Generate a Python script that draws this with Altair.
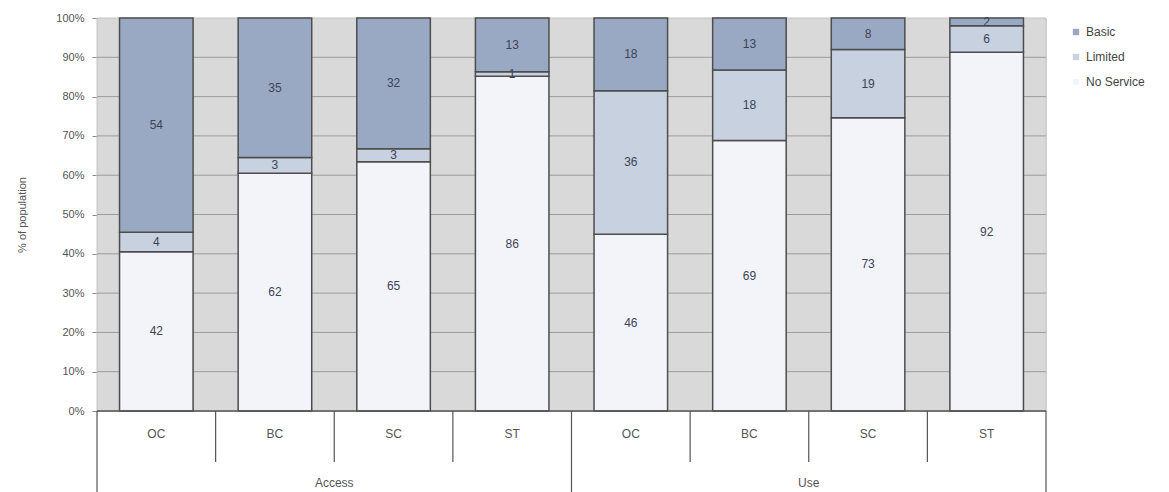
import altair as alt
import pandas as pd

# ---- data ----
groups = ["Access", "Access", "Access", "Access", "Use", "Use", "Use", "Use"]
cats = ["OC", "BC", "SC", "ST", "OC", "BC", "SC", "ST"]
levels = ["No Service", "Limited", "Basic"]

# drawn segment heights (% of bar)
h_no_service = [40.5, 60.5, 63.4, 85.2, 45.0, 68.8, 74.6, 91.3]
h_limited = [5.0, 4.0, 3.3, 1.1, 36.5, 18.0, 17.4, 6.7]
h_basic = [54.5, 35.5, 33.3, 13.7, 18.5, 13.2, 8.0, 2.0]

# printed labels
l_no_service = [42, 62, 65, 86, 46, 69, 73, 92]
l_limited = [4, 3, 3, 1, 36, 18, 19, 6]
l_basic = [54, 35, 32, 13, 18, 13, 8, 2]

y_ticks = [0, 10, 20, 30, 40, 50, 60, 70, 80, 90, 100]

colors = ["#9AA9C3", "#C8D1DF", "#F3F4F9"]  # Basic, Limited, No Service

W, H = 949, 393

rows = []
for i in range(len(cats)):
    for o, (lvl, hs, ls) in enumerate(zip(levels,
                                          [h_no_service, h_limited, h_basic],
                                          [l_no_service, l_limited, l_basic])):
        rows.append({"idx": i, "group": groups[i], "cat": cats[i], "level": lvl,
                     "ord": o, "value": hs[i], "label": str(ls[i])})
df = pd.DataFrame(rows)

cat_df = pd.DataFrame({"idx": list(range(len(cats))), "cat": cats, "group": groups})
bounds = list(range(len(cats) + 1))
outer = [b for b in bounds if b == 0 or b == len(cats) or groups[b - 1] != groups[b]]
inner = [b for b in bounds if b not in outer]

xscale = alt.Scale(domain=[0, len(cats)], nice=False, zero=False)
yscale = alt.Scale(domain=[0, 100], nice=False)
YT = "% of population"


def yaxis():
    return alt.Axis(values=y_ticks, labelExpr="datum.value + '%'",
                    grid=False, tickColor="#8A8A8A", tickSize=5, domain=False,
                    labelPadding=8, labelFontSize=11, labelColor="#555555",
                    labelOverlap=False,
                    titleFontSize=11, titleFontWeight="normal", titleColor="#555555",
                    titlePadding=28)


bg = alt.Chart(pd.DataFrame({"xa": [0], "xb": [len(cats)], "ya": [0], "yb": [100]})).mark_rect(
    color="#D9D9D9", stroke="#C4C4C4", strokeWidth=1
).encode(
    x=alt.X("xa:Q", scale=xscale, axis=None), x2="xb:Q",
    y=alt.Y("ya:Q", scale=yscale, title=YT, axis=yaxis()),
    y2="yb:Q",
)

grid = alt.Chart(pd.DataFrame({"y": y_ticks[1:-1], "xa": 0, "xb": len(cats)})).mark_rule(
    color="#9C9C9C", strokeWidth=1
).encode(x=alt.X("xa:Q", scale=xscale, axis=None), x2="xb:Q",
         y=alt.Y("y:Q", scale=yscale, title=YT, axis=yaxis()))

base = alt.Chart(df).transform_stack(
    stack="value", groupby=["idx"],
    sort=[alt.SortField("ord", order="ascending")], as_=["y0", "y1"]
).transform_calculate(
    xa="datum.idx + 0.19", xb="datum.idx + 0.81",
    xm="datum.idx + 0.5", ym="(datum.y0 + datum.y1) / 2"
)

bars = base.mark_bar(stroke="#4d4d4d", strokeWidth=1.5).encode(
    x=alt.X("xa:Q", scale=xscale, axis=None),
    x2="xb:Q",
    y=alt.Y("y0:Q", scale=yscale, title=YT, axis=yaxis()),
    y2="y1:Q",
    color=alt.Color("level:N",
                    scale=alt.Scale(domain=["Basic", "Limited", "No Service"], range=colors),
                    legend=alt.Legend(title=None, orient="none", legendX=W + 24, legendY=8,
                                      symbolType="square", symbolSize=40, symbolStrokeWidth=0,
                                      labelFontSize=12, labelColor="#444444", rowPadding=13,
                                      padding=0)),
)

texts = base.mark_text(fontSize=12, color="#3C4458").encode(
    x=alt.X("xm:Q", scale=xscale, axis=None),
    y=alt.Y("ym:Q", scale=yscale, title=YT, axis=yaxis()),
    text="label:N",
)

zero_line = alt.Chart(pd.DataFrame({"y": [0], "xa": [0], "xb": [len(cats)]})).mark_rule(
    color="#555555", strokeWidth=1.5
).encode(x=alt.X("xa:Q", scale=xscale, axis=None), x2="xb:Q",
         y=alt.Y("y:Q", scale=yscale, title=YT, axis=yaxis()))

inner_rules = alt.Chart(pd.DataFrame({"b": inner})).mark_rule(
    color="#555555", strokeWidth=1.2
).encode(x=alt.X("b:Q", scale=xscale, axis=None), y=alt.value(H), y2=alt.value(H + 51))

outer_rules = alt.Chart(pd.DataFrame({"b": outer})).mark_rule(
    color="#555555", strokeWidth=1.2
).encode(x=alt.X("b:Q", scale=xscale, axis=None), y=alt.value(H), y2=alt.value(H + 81))

cat_labels = alt.Chart(cat_df).transform_calculate(xm="datum.idx + 0.5").mark_text(
    fontSize=12, color="#555555"
).encode(x=alt.X("xm:Q", scale=xscale, axis=None), y=alt.value(H + 23), text="cat:N")

group_labels = alt.Chart(cat_df).transform_aggregate(
    lo="min(idx)", hi="max(idx)", groupby=["group"]
).transform_calculate(xm="(datum.lo + datum.hi + 1) / 2").mark_text(
    fontSize=12, color="#555555"
).encode(x=alt.X("xm:Q", scale=xscale, axis=None), y=alt.value(H + 72), text="group:N")

chart = alt.layer(bg, grid, bars, texts, zero_line, inner_rules, outer_rules,
                  cat_labels, group_labels).properties(
    width=W, height=H,
    autosize=alt.AutoSizeParams(type="none"),
    padding={"left": 97, "top": 18, "right": 1169 - 97 - W, "bottom": 492 - 18 - H},
).configure_view(stroke=None).configure(font="Liberation Sans")

chart.save("out.html", embed_options={"renderer": "svg", "actions": False})
